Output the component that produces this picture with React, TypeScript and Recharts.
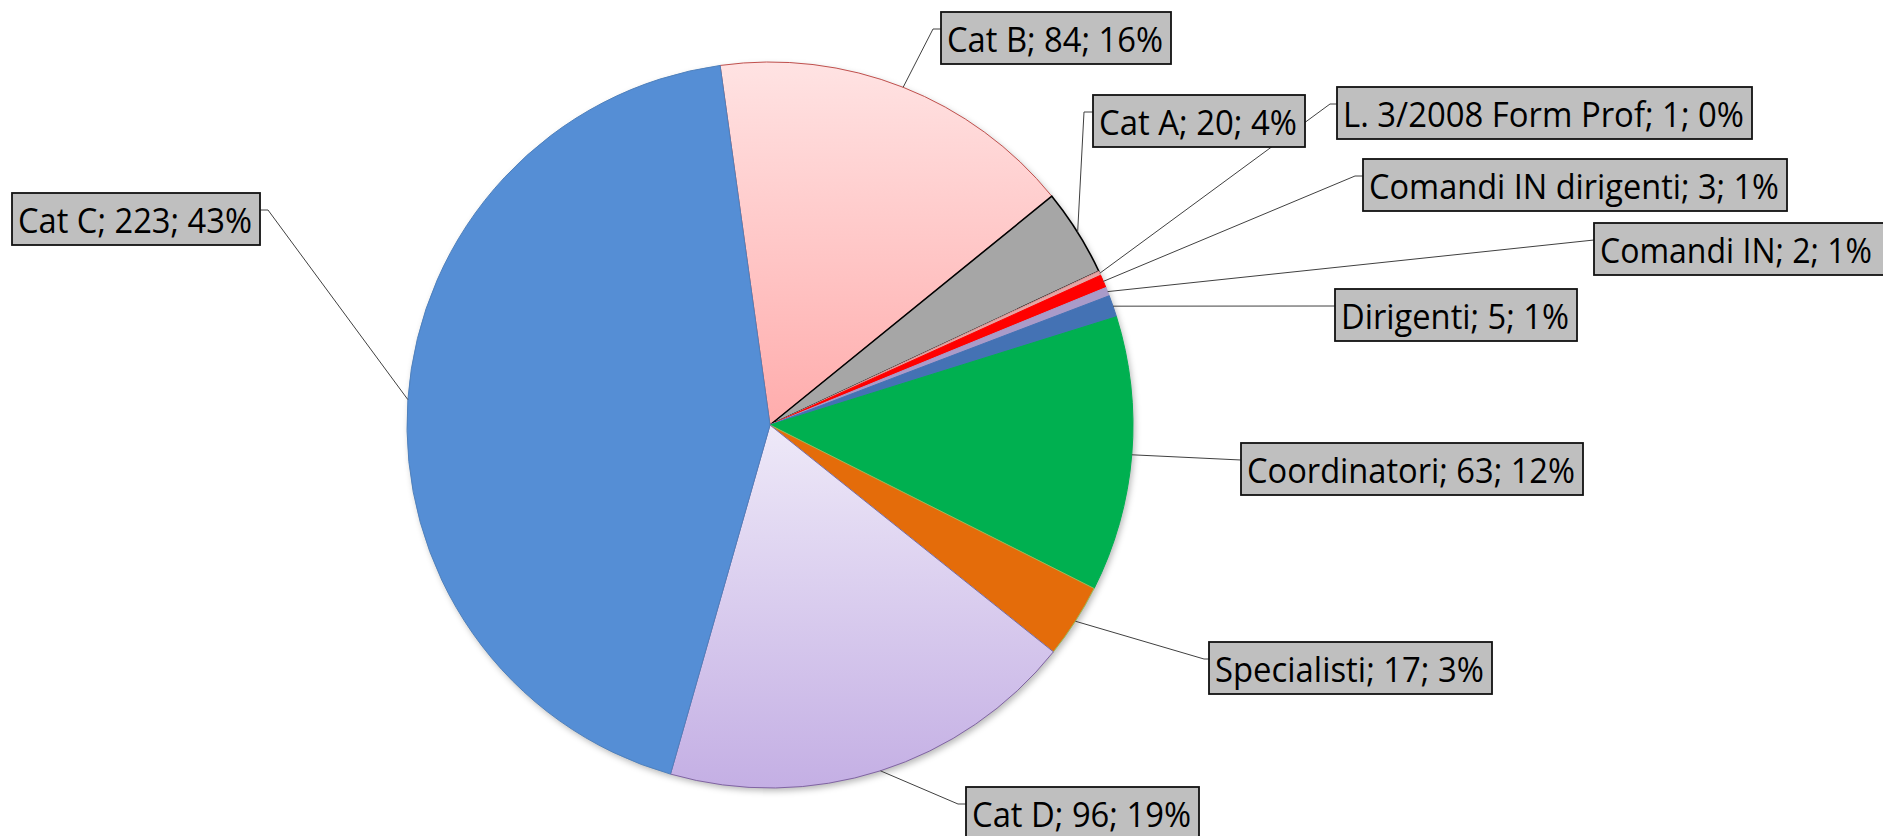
import React from "react";
import { Cell, Pie, PieChart } from "recharts";

// slices in clockwise order, starting from the Cat C / Cat B edge near 12 o'clock
const categories = [
  "Cat B",
  "Cat A",
  "L. 3/2008 Form Prof",
  "Comandi IN dirigenti",
  "Comandi IN",
  "Dirigenti",
  "Coordinatori",
  "Specialisti",
  "Cat D",
  "Cat C",
];
const values = [84, 20, 1, 3, 2, 5, 63, 17, 96, 223];
const percentLabels = ["16%", "4%", "0%", "1%", "1%", "1%", "12%", "3%", "19%", "43%"];

const data = categories.map((name, i) => ({
  name,
  value: values[i],
  pct: percentLabels[i],
}));

const fills = [
  "url(#gradCatB)",
  "#A6A6A6",
  "#E6A5A5",
  "#FF0000",
  "#A99BC9",
  "#4472B4",
  "#00B050",
  "#E46C0A",
  "url(#gradCatD)",
  "#558ED5",
];
const strokes = [
  "#C0504D",
  "#000000",
  "#D99694",
  "#FF0000",
  "#A99BC9",
  "#4472B4",
  "#00B050",
  "#9BBB59",
  "#8064A2",
  "#4F81BD",
];

// where each data label box sits (left, top, width) and the stub length of its leader
const labelBoxes = [
  { x: 941, y: 12, w: 230, stub: -8 },
  { x: 1093, y: 95, w: 212, stub: -9 },
  { x: 1337, y: 87, w: 415, stub: -7 },
  { x: 1363, y: 159, w: 424, stub: -8 },
  { x: 1594, y: 223, w: 292, stub: 0, pad: 20 },
  { x: 1335, y: 289, w: 242, stub: 0 },
  { x: 1241, y: 443, w: 342, stub: 0 },
  { x: 1209, y: 642, w: 283, stub: -5 },
  { x: 966, y: 787, w: 233, stub: -8 },
  { x: 12, y: 193, w: 248, stub: 8, right: true },
];

const BOX_H = 52;
const RAD = Math.PI / 180;

const renderLeader = (props: any) => {
  const { cx, cy, midAngle, outerRadius, index } = props;
  const box = labelBoxes[index];
  const px = cx + outerRadius * Math.cos(-midAngle * RAD);
  const py = cy + outerRadius * Math.sin(-midAngle * RAD);
  const bx = box.right ? box.x + box.w : box.x;
  const by = box.y + 17;
  const sx = bx + box.stub;
  return (
    <polyline
      key={`leader-${index}`}
      points={`${bx},${by} ${sx},${by} ${px},${py}`}
      fill="none"
      stroke="#404040"
      strokeWidth={1}
    />
  );
};

const renderBox = (props: any) => {
  const { index, name, value, payload } = props;
  const box = labelBoxes[index];
  const text = `${name}; ${value}; ${payload.pct}`;
  return (
    <g key={`box-${index}`}>
      <rect
        x={box.x}
        y={box.y}
        width={box.w}
        height={BOX_H}
        fill="#BFBFBF"
        stroke="#111"
        strokeWidth={1.8}
      />
      <text
        x={box.x + 6}
        y={box.y + 40}
        fontSize={35}
        fontFamily="'Open Sans', 'Noto Sans', sans-serif"
        fill="#000"
        textLength={box.w - (box.pad ?? 14)}
        lengthAdjust="spacingAndGlyphs"
      >
        {text}
      </text>
    </g>
  );
};

export default function App() {
  return (
    <div style={{ position: "absolute", left: 0, top: 0, background: "#fff" }}>
      <PieChart width={1883} height={836} margin={{ top: 0, right: 0, bottom: 0, left: 0 }}>
        <defs>
          <linearGradient id="gradCatB" x1="0" y1="0" x2="0" y2="1">
            <stop offset="0%" stopColor="#FFE3E3" />
            <stop offset="100%" stopColor="#FFACAC" />
          </linearGradient>
          <linearGradient id="gradCatD" x1="0" y1="0" x2="0" y2="1">
            <stop offset="0%" stopColor="#EEE9F8" />
            <stop offset="100%" stopColor="#C4AFE4" />
          </linearGradient>
          <filter id="softShadow" x="-10%" y="-10%" width="120%" height="120%">
            <feGaussianBlur stdDeviation="3" />
          </filter>
        </defs>
        {/* soft drop shadow under the pie */}
        <Pie
          data={data}
          dataKey="value"
          nameKey="name"
          cx={772}
          cy={428}
          outerRadius={363}
          startAngle={97.9}
          endAngle={-262.1}
          fill="#000"
          fillOpacity={0.28}
          stroke="none"
          filter="url(#softShadow)"
          legendType="none"
          isAnimationActive={false}
        />
        <Pie
          data={data}
          dataKey="value"
          nameKey="name"
          cx={770}
          cy={425}
          outerRadius={363}
          startAngle={97.9}
          endAngle={-262.1}
          label={renderLeader}
          labelLine={false}
          isAnimationActive={false}
        >
          {data.map((d, i) => (
            <Cell
              key={d.name}
              fill={fills[i]}
              stroke={strokes[i]}
              strokeWidth={i === 1 ? 1.6 : 1}
            />
          ))}
        </Pie>
        <Pie
          data={data}
          dataKey="value"
          nameKey="name"
          cx={770}
          cy={425}
          outerRadius={363}
          startAngle={97.9}
          endAngle={-262.1}
          fill="none"
          stroke="none"
          label={renderBox}
          labelLine={false}
          legendType="none"
          isAnimationActive={false}
        />
      </PieChart>
    </div>
  );
}
